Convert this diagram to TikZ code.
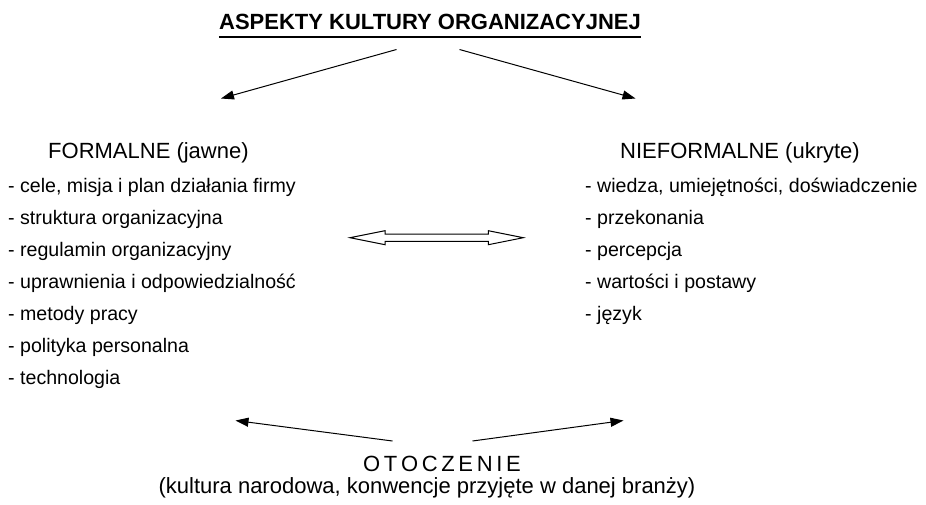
\documentclass[tikz,border=0pt]{standalone}
\usepackage{fontspec}
\setmainfont{Liberation Sans}
\usetikzlibrary{arrows.meta}
\begin{document}
\begin{tikzpicture}[x=1pt,y=-1pt,
  txt/.style={inner sep=0pt,font=\fontsize{22}{26}\selectfont},
  item/.style={inner sep=0pt,anchor=base west,font=\fontsize{19.6}{24}\selectfont},
  head/.style={txt,anchor=base west},
  conn/.style={line width=1pt,-{Triangle[length=13pt,width=9pt]}},
  hollow/.style={line width=1pt,line join=miter}]
\useasboundingbox (0,0) rectangle (926,504);
% title
\node[txt,anchor=base,font=\fontsize{22}{26}\bfseries] (title) at (430,29.5) {ASPEKTY KULTURY ORGANIZACYJNEJ};
\draw[line width=2pt] ([yshift=-7.5pt]title.base west) -- ([yshift=-7.5pt]title.base east);
% left column
\node[head] (fh) at (48,158.5) {FORMALNE (jawne)};
\node[item] (f1) at (8,192) {- cele, misja i plan działania firmy};
\node[item] (f2) at (8,224) {- struktura organizacyjna};
\node[item] (f3) at (8,256) {- regulamin organizacyjny};
\node[item] (f4) at (8,288) {- uprawnienia i odpowiedzialność};
\node[item] (f5) at (8,320) {- metody pracy};
\node[item] (f6) at (8,352) {- polityka personalna};
\node[item] (f7) at (8,384) {- technologia};
% right column
\node[head] (nh) at (620,158.5) {NIEFORMALNE (ukryte)};
\node[item] (n1) at (585,192) {- wiedza, umiejętności, doświadczenie};
\node[item] (n2) at (585,224) {- przekonania};
\node[item] (n3) at (585,256) {- percepcja};
\node[item] (n4) at (585,288) {- wartości i postawy};
\node[item] (n5) at (585,320) {- język};
% environment
\node[txt,anchor=base] (ot) at (442,471.5) {O\,T\,O\,C\,Z\,E\,N\,I\,E};
\node[txt,anchor=base] (otd) at (427,493) {(kultura narodowa, konwencje przyjęte w danej branży)};
% arrows from the title
\coordinate (tl) at (396.5,49.5);
\coordinate (tr) at (459.5,49.5);
\coordinate (hl) at (221,98.5);
\coordinate (hr) at (635.5,98.5);
\draw[conn] (tl) -- (hl);
\draw[conn] (tr) -- (hr);
% arrows from the environment
\coordinate (bl) at (392.5,441);
\coordinate (br) at (472.5,441);
\coordinate (el) at (235.5,420.5);
\coordinate (er) at (623.5,420.5);
\draw[conn] (bl) -- (el);
\draw[conn] (br) -- (er);
% hollow double arrow between the two groups
\draw[hollow] (350,237.7) -- (385,230.7) -- (385,234) -- (488.3,234) -- (488.3,230.7)
  -- (523.3,237.7) -- (488.3,244.7) -- (488.3,241.4) -- (385,241.4) -- (385,244.7) -- cycle;
\end{tikzpicture}
\end{document}
